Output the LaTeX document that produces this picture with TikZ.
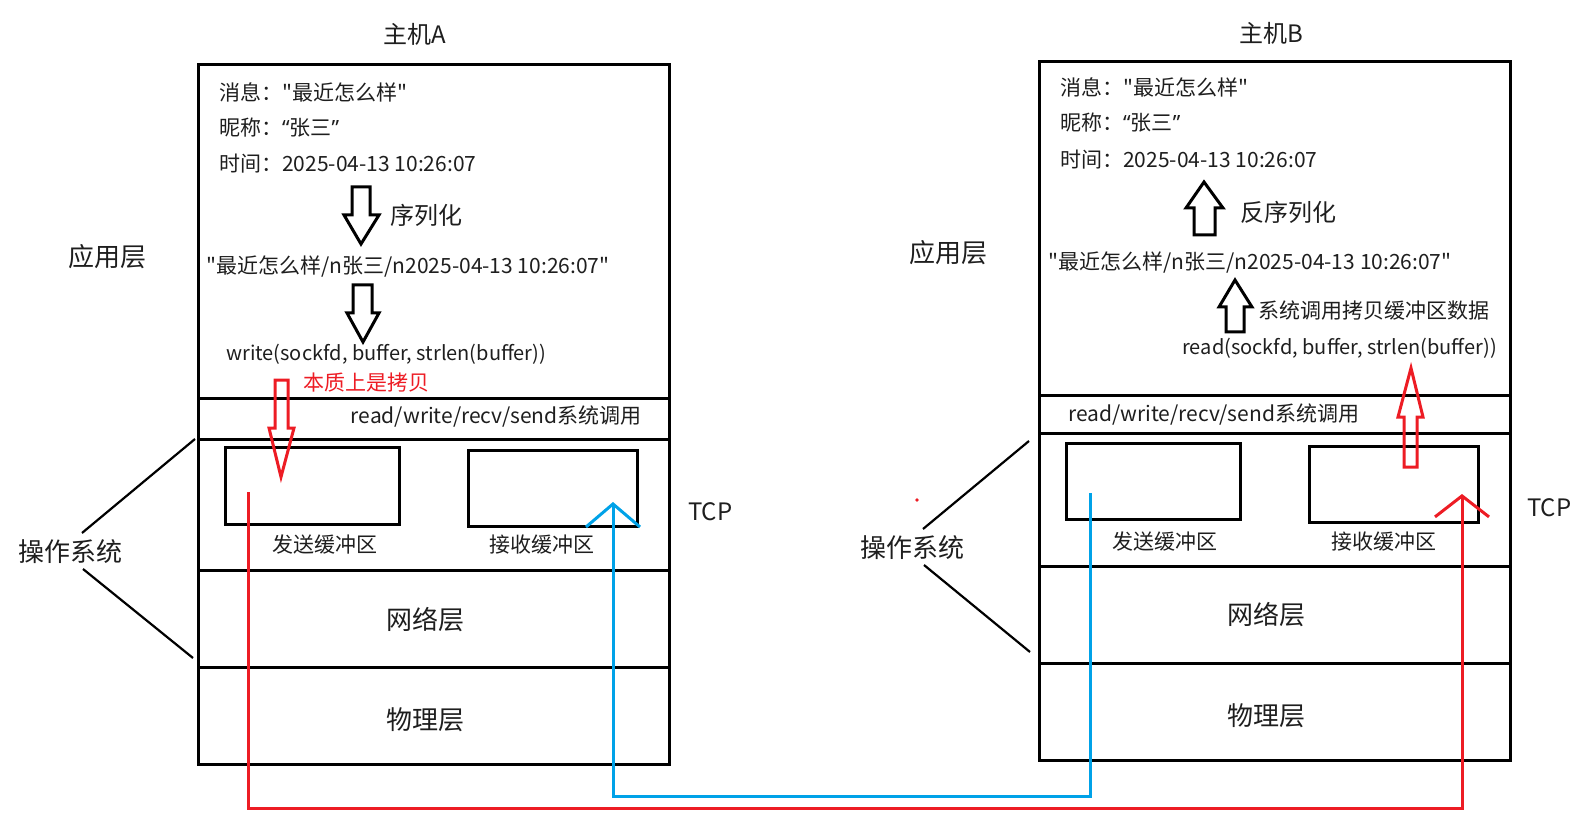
\documentclass[tikz,border=0pt]{standalone}
\usepackage{fontspec}
\setmainfont{Noto Sans CJK SC}[Ligatures=TeXOff]
\newfontfamily\quotefont{Noto Sans}
\usetikzlibrary{arrows.meta,positioning}
\definecolor{pred}{RGB}{237,28,36}
\definecolor{pblue}{RGB}{0,162,232}
\definecolor{ink}{RGB}{30,30,30}
\tikzset{
  layer/.style={draw,line width=3pt,minimum width=471pt,inner sep=0pt,outer sep=0pt},
  buf/.style={draw,line width=3pt,minimum width=172pt,minimum height=76pt,inner sep=0pt,outer sep=0pt,anchor=north west},
  txt/.style={font=\fontsize{21}{25}\selectfont,inner sep=0pt,text=ink},
  code/.style={font=\fontsize{20}{24}\selectfont,inner sep=0pt,text=ink},
  big/.style={font=\fontsize{26}{30}\selectfont,inner sep=0pt,text=ink},
  title/.style={font=\fontsize{24}{28}\selectfont,inner sep=0pt,text=ink},
  hollow/.style={draw,line width=3pt,line join=miter},
  brace/.style={line width=2.2pt},
  redflow/.style={draw=pred,line width=3pt,-{Straight Barb[length=21pt,width=54pt]}},
  blueflow/.style={draw=pblue,line width=3pt,-{Straight Barb[length=23pt,width=54pt]}},
}

\begin{document}
\begin{tikzpicture}[x=1pt,y=-1pt]
\useasboundingbox (0,0) rectangle (1596,818);

% host A
\node[title] (titleA) at (415,34) {主机A};
\node[layer,anchor=north west,minimum height=333pt] (appA) at (198,65) {};
\node[layer,below=0pt of appA,minimum height=41pt] (sysA) {};
\node[layer,below=0pt of sysA,minimum height=131pt] (tcpA) {};
\node[layer,below=0pt of tcpA,minimum height=97pt] (netA) {};
\node[layer,below=0pt of netA,minimum height=97pt] (phyA) {};
\node[big] (netAtxt) at (425,620) {网络层};
\node[big] (phyAtxt) at (425,720) {物理层};

\node[txt,anchor=west] (msgA) at (219,92) {消息："最近怎么样"};
\node[txt,anchor=west] (nickA) at (219,128) {昵称：{\quotefont “}张三{\quotefont ”}};
\node[txt,anchor=west] (timeA) at (219,164) {时间：2025-04-13 10:26:07};
\node[title,anchor=west] (serA) at (390,215) {序列化};
\node[txt] (strA) at (408,267) {"最近怎么样/n张三/n2025-04-13 10:26:07"};
\node[code,anchor=west] (writeA) at (226,354) {write(sockfd, buffer, strlen(buffer))};
\node[txt,anchor=west,text=pred] (copyA) at (303,383) {本质上是拷贝};
\node[txt,anchor=east] (callA) at (642,417) {read/write/recv/send系统调用};

\node[buf,minimum width=174pt,minimum height=77pt] (sendA) at (225,447) {};
\node[buf,minimum width=169pt] (recvA) at (468,450) {};
\node[txt] (sendAtxt) at (325,545) {发送缓冲区};
\node[txt] (recvAtxt) at (542,545) {接收缓冲区};
\node[title,anchor=west] (tcpAtxt) at (688,512) {TCP};

\node[big] (appAtxt) at (107,257) {应用层};
\node[big] (osA) at (70,552) {操作系统};
\draw[brace] (82,533) -- (195,439);
\draw[brace] (83,569) -- (193,658);

\draw[hollow] (352,187) -- (370,187) -- (370,215) -- (379,215) -- (361,244) -- (344,215) -- (352,215) -- cycle;
\draw[hollow] (353,285) -- (372,285) -- (372,313) -- (379,313) -- (363,342) -- (347,313) -- (353,313) -- cycle;
\draw[hollow,draw=pred] (275,380) -- (288,380) -- (288,428) -- (294,428) -- (281,477) -- (269,428) -- (275,428) -- cycle;

% host B
\node[title] (titleB) at (1271,33) {主机B};
\node[layer,anchor=north west,minimum height=333pt] (appB) at (1039,62) {};
\node[layer,below=0pt of appB,minimum height=38pt] (sysB) {};
\node[layer,below=0pt of sysB,minimum height=133pt] (tcpB) {};
\node[layer,below=0pt of tcpB,minimum height=97pt] (netB) {};
\node[layer,below=0pt of netB,minimum height=97pt] (phyB) {};
\node[big] (netBtxt) at (1266,615) {网络层};
\node[big] (phyBtxt) at (1266,716) {物理层};

\node[txt,anchor=west] (msgB) at (1060,87) {消息："最近怎么样"};
\node[txt,anchor=west] (nickB) at (1060,123) {昵称：{\quotefont “}张三{\quotefont ”}};
\node[txt,anchor=west] (timeB) at (1060,160) {时间：2025-04-13 10:26:07};
\node[title,anchor=west] (deserB) at (1240,212) {反序列化};
\node[txt] (strB) at (1250,263) {"最近怎么样/n张三/n2025-04-13 10:26:07"};
\node[txt,anchor=west] (copyB) at (1258,311) {系统调用拷贝缓冲区数据};
\node[code,anchor=east] (readB) at (1497,348) {read(sockfd, buffer, strlen(buffer))};
\node[txt,anchor=west] (callB) at (1068,415) {read/write/recv/send系统调用};

\node[buf,minimum width=174pt] (sendB) at (1066,443) {};
\node[buf,minimum width=169pt] (recvB) at (1309,446) {};
\node[txt] (sendBtxt) at (1165,542) {发送缓冲区};
\node[txt] (recvBtxt) at (1384,542) {接收缓冲区};
\node[title,anchor=west] (tcpBtxt) at (1527,508) {TCP};

\node[big] (appBtxt) at (948,253) {应用层};
\node[big] (osB) at (912,548) {操作系统};
\draw[brace] (923,529) -- (1029,441);
\draw[brace] (924,565) -- (1030,652);
\fill[pred] (917,500) circle (1.8pt);

\draw[hollow] (1204,182) -- (1223,208) -- (1215,208) -- (1215,235) -- (1194,235) -- (1194,208) -- (1186,208) -- cycle;
\draw[hollow] (1235,280) -- (1252,307) -- (1244,307) -- (1244,332) -- (1226,332) -- (1226,307) -- (1219,307) -- cycle;
\draw[hollow,draw=pred] (1411,368) -- (1423,417) -- (1417,417) -- (1417,467) -- (1404,467) -- (1404,417) -- (1398,417) -- cycle;

% data path between the hosts
\coordinate (redA) at (248,492);
\coordinate (redB) at (1462,494);
\coordinate (redlow) at (0,808);
\coordinate (blueB) at (1090,493);
\coordinate (blueA) at (613,502);
\coordinate (bluelow) at (0,796);
\draw[redflow] (redA) -- (redA |- redlow) -| (redB);
\draw[blueflow] (blueB) -- (blueB |- bluelow) -| (blueA);
\end{tikzpicture}
\end{document}
